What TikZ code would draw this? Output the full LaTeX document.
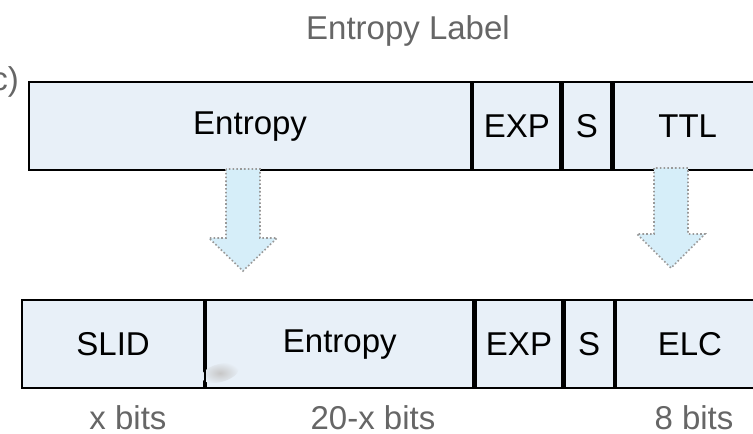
\documentclass[tikz,border=0pt]{standalone}
\usepackage{fontspec}
\setmainfont{Liberation Sans}
\usetikzlibrary{positioning}
\definecolor{cellfill}{HTML}{E8F0F8}
\definecolor{arrowfill}{HTML}{D6EEF9}
\definecolor{labelgray}{HTML}{666666}
\tikzset{
    x=1pt, y=-1pt, % work in pixel units, y pointing down
    field/.style={draw, line width=2.2pt, fill=cellfill, minimum height=88pt,
        inner sep=0pt, font=\fontsize{33}{40}\selectfont}, % one header field
    caption/.style={text=labelgray, inner sep=0pt, font=\fontsize{33}{40}\selectfont},
    fatarrow/.style={draw=gray!80, line width=1.6pt,
        dash pattern=on 1.6pt off 2.2pt}, % dotted block arrow outline
}

\begin{document}
\begin{tikzpicture}
\useasboundingbox (0,0) rectangle (753,434);

\node[caption, anchor=base] (title) at (408,39) {Entropy Label};
\node[caption, anchor=base east] (tag) at (19,90) {(c)};

% upper header: entropy label fields
\node[field, minimum width=442pt, anchor=north west] (ent1) at (28,81) {Entropy};
\node[field, minimum width=87pt, right=0pt of ent1] (exp1) {EXP};
\node[field, minimum width=49pt, right=0pt of exp1] (s1) {S};
\node[field, minimum width=148pt, right=0pt of s1] (ttl) {TTL};

% lower header: split entropy field
\node[field, minimum width=182pt, anchor=north west] (slid) at (21,299) {SLID};
\node[field, minimum width=267pt, right=0pt of slid] (ent2) {Entropy};
\node[field, minimum width=87pt, right=0pt of ent2] (exp2) {EXP};
\node[field, minimum width=49pt, right=0pt of exp2] (s2) {S};
\node[field, minimum width=148pt, right=0pt of s2] (elc) {ELC};

% smudge under the SLID/Entropy border
\begin{scope}[shift={(220,373)}, rotate=15]
\shade[inner color=black!22, outer color=cellfill] (0,0) ellipse (19pt and 9pt);
\end{scope}
\draw[line width=2.2pt] (slid.north east) -- (slid.south east);

% bit widths
\node[caption, anchor=base] (bx) at (128,429) {x bits};
\node[caption, anchor=base] (b20) at (373,429) {20-x bits};
\node[caption, anchor=base] (b8) at (694,429) {8 bits};

% mapping arrows: shaft and head filled, then dotted outline
\fill[arrowfill] (226,169) rectangle (260,239);
\fill[arrowfill] (209,238) -- (243,271) -- (277,238) -- cycle;
\draw[fatarrow] (226,169) -- (226,238) -- (209,238) -- (243,271)
    -- (277,238) -- (260,238) -- (260,169) -- cycle;
\fill[arrowfill] (654,168) rectangle (688,235);
\fill[arrowfill] (637,234) -- (671,268) -- (705,234) -- cycle;
\draw[fatarrow] (654,168) -- (654,234) -- (637,234) -- (671,268)
    -- (705,234) -- (688,234) -- (688,168) -- cycle;
\end{tikzpicture}
\end{document}
